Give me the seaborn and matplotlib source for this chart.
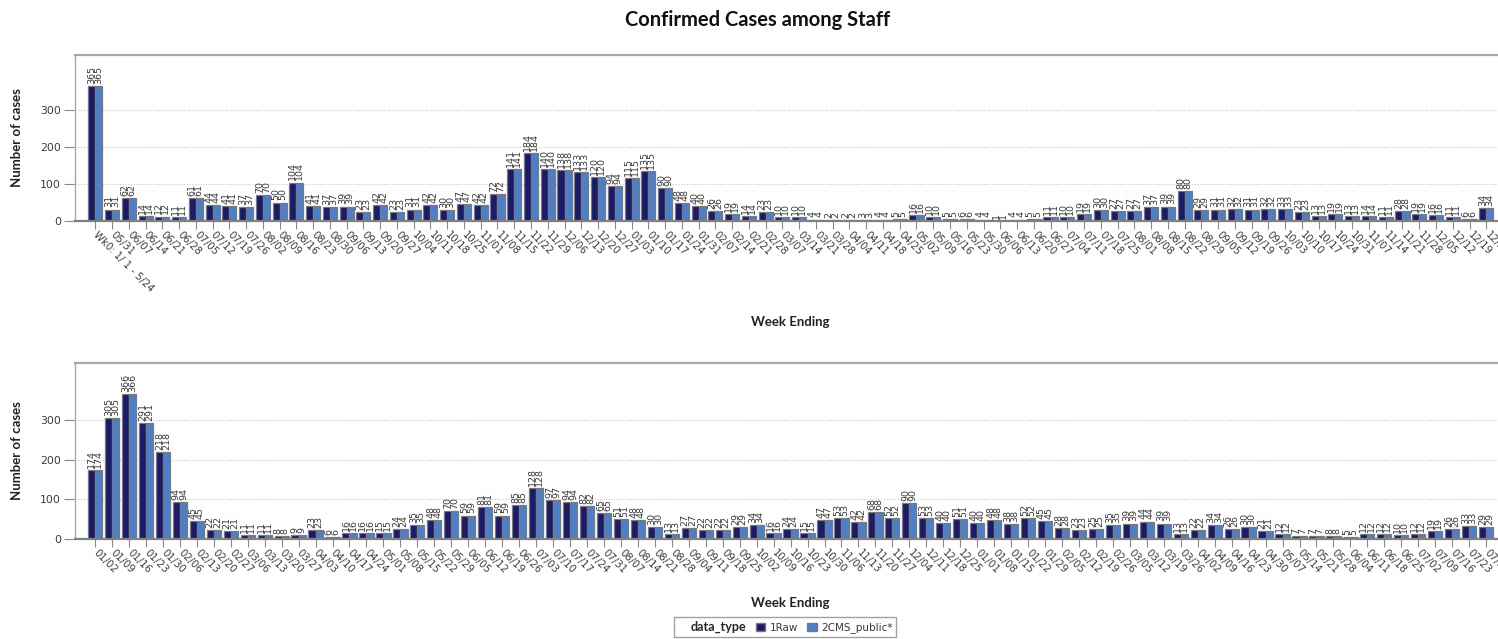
import matplotlib
matplotlib.use("Agg")
import matplotlib.pyplot as plt
import numpy as np
import pandas as pd
import seaborn as sns
from matplotlib.patches import Patch, Rectangle

# ---------------- data ----------------
top_weeks = ["Wk0: 1/ 1 - 5/24", "05/31", "06/07", "06/14", "06/21", "06/28", "07/05", "07/12",
             "07/19", "07/26", "08/02", "08/09", "08/16", "08/23", "08/30", "09/06", "09/13",
             "09/20", "09/27", "10/04", "10/11", "10/18", "10/25", "11/01", "11/08", "11/15",
             "11/22", "11/29", "12/06", "12/13", "12/20", "12/27", "01/03", "01/10", "01/17",
             "01/24", "01/31", "02/07", "02/14", "02/21", "02/28", "03/07", "03/14", "03/21",
             "03/28", "04/04", "04/11", "04/18", "04/25", "05/02", "05/09", "05/16", "05/23",
             "05/30", "06/06", "06/13", "06/20", "06/27", "07/04", "07/11", "07/18", "07/25",
             "08/01", "08/08", "08/15", "08/22", "08/29", "09/05", "09/12", "09/19", "09/26",
             "10/03", "10/10", "10/17", "10/24", "10/31", "11/07", "11/14", "11/21", "11/28",
             "12/05", "12/12", "12/19", "12/26"]
top_raw = [365, 31, 62, 14, 12, 11, 61, 44, 41, 37, 70, 50, 104, 41, 37, 39, 23, 42, 23, 31,
           42, 30, 47, 42, 72, 141, 184, 140, 138, 133, 120, 94, 115, 135, 90, 48, 40, 26, 19, 14,
           23, 10, 10, 4, 2, 2, 3, 4, 5, 16, 10, 5, 6, 4, 1, 4, 5, 11, 10, 19,
           30, 27, 27, 37, 39, 80, 29, 31, 32, 31, 32, 33, 23, 13, 19, 13, 14, 11, 28, 19,
           16, 11, 6, 34]
top_cms = [365, 31, 62, 14, 12, 11, 61, 44, 41, 37, 70, 50, 104, 41, 37, 39, 23, 42, 23, 31,
           42, 30, 47, 42, 72, 141, 184, 140, 138, 133, 120, 94, 115, 135, 90, 48, 40, 26, 19, 14,
           23, 10, 10, 4, 2, 2, 3, 4, 5, 16, 10, 5, 6, 4, 1, 4, 5, 11, 10, 19,
           30, 27, 27, 37, 39, 80, 29, 31, 32, 31, 32, 33, 23, 13, 19, 13, 14, 11, 28, 19,
           16, 11, 6, 34]

bottom_weeks = ["01/02", "01/09", "01/16", "01/23", "01/30", "02/06", "02/13", "02/20", "02/27",
                "03/06", "03/13", "03/20", "03/27", "04/03", "04/10", "04/17", "04/24", "05/01",
                "05/08", "05/15", "05/22", "05/29", "06/05", "06/12", "06/19", "06/26", "07/03",
                "07/10", "07/17", "07/24", "07/31", "08/07", "08/14", "08/21", "08/28", "09/04",
                "09/11", "09/18", "09/25", "10/02", "10/09", "10/16", "10/23", "10/30", "11/06",
                "11/13", "11/20", "11/27", "12/04", "12/11", "12/18", "12/25", "01/01", "01/08",
                "01/15", "01/22", "01/29", "02/05", "02/12", "02/19", "02/26", "03/05", "03/12",
                "03/19", "03/26", "04/02", "04/09", "04/16", "04/23", "04/30", "05/07", "05/14",
                "05/21", "05/28", "06/04", "06/11", "06/18", "06/25", "07/02", "07/09", "07/16",
                "07/23", "07/30"]
bottom_raw = [174, 305, 366, 291, 218, 94, 45, 22, 21, 11, 11, 8, 9, 23, 6, 16, 16, 15, 24, 35,
              48, 70, 59, 81, 59, 85, 128, 97, 94, 82, 65, 51, 48, 30, 13, 27, 22, 22, 29, 34,
              16, 24, 15, 47, 53, 42, 68, 52, 90, 53, 40, 51, 40, 48, 38, 52, 45, 28, 23, 25,
              35, 39, 44, 39, 13, 22, 34, 26, 30, 21, 12, 7, 7, 8, 5, 12, 12, 10, 12, 19,
              26, 33, 29]
bottom_cms = [174, 305, 366, 291, 218, 94, 45, 22, 21, 11, 11, 8, 9, 23, 6, 16, 16, 15, 24, 35,
              48, 70, 59, 81, 59, 85, 128, 97, 94, 82, 65, 51, 48, 30, 13, 27, 22, 22, 29, 34,
              16, 24, 15, 47, 53, 42, 68, 52, 90, 53, 40, 51, 40, 48, 38, 52, 45, 28, 23, 25,
              35, 39, 44, 39, 13, 22, 34, 26, 30, 21, 12, 7, 7, 8, 5, 12, 12, 10, 12, 19,
              26, 33, 29]

series_names = ["1Raw", "2CMS_public*"]
y_ticks = [0, 100, 200, 300]

# ---------------- style ----------------
colors = ["#1b1b6a", "#4b7fca"]
edge = "#7a7a7a"
txt = "#3a3a3a"

sns.set_theme(style="white")
plt.rcParams["font.family"] = ["DejaVu Sans"]

W, H = 1498, 639
fig = plt.figure(figsize=(W / 100, H / 100), dpi=100)

ax1 = fig.add_axes([75 / W, 1 - 221 / H, (W - 75) / W, 166 / H])
ax2 = fig.add_axes([75 / W, 1 - 539 / H, (W - 75) / W, 176 / H])


def draw(ax, weeks, raw, cms, xlim, ylim):
    n = len(weeks)
    df = pd.DataFrame({
        "week": weeks + weeks,
        "data_type": [series_names[0]] * n + [series_names[1]] * n,
        "cases": raw + cms,
    })
    sns.barplot(data=df, x="week", y="cases", hue="data_type", order=weeks,
                hue_order=series_names, palette=colors, saturation=1, width=0.84,
                edgecolor=edge, linewidth=0.9, errorbar=None, legend=False, ax=ax)
    for cont, vals in zip(ax.containers, [raw, cms]):
        ax.bar_label(cont, labels=[str(v) for v in vals], rotation=90, padding=1.5,
                     fontsize=6.8, color=txt)
    ax.set_xlim(*xlim)
    ax.set_ylim(*ylim)
    ax.set_yticks(y_ticks)
    ax.set_yticklabels([str(t) for t in y_ticks], fontsize=7.8, color=txt)
    ax.set_xticks(range(n))
    ax.set_xticklabels(weeks, rotation=-45, ha="left", va="center",
                       rotation_mode="anchor", fontsize=7.3, color=txt)
    ax.tick_params(axis="x", bottom=True, length=6, width=0.8, color="#8a8a8a", pad=3)
    ax.tick_params(axis="y", left=True, length=8, width=0.8, color="#8a8a8a", pad=2)
    ax.yaxis.grid(True, linestyle=(0, (1, 1.5)), color="#c8c8c8", linewidth=0.8)
    ax.xaxis.grid(False)
    ax.set_axisbelow(True)
    ax.set_xlabel("")
    ax.set_ylabel("")
    ax.spines["right"].set_visible(False)
    ax.spines["top"].set_color("#a8a8a8")
    ax.spines["top"].set_linewidth(1.6)
    ax.spines["left"].set_color("#a8a8a8")
    ax.spines["left"].set_linewidth(1.0)
    ax.spines["bottom"].set_color("#808080")
    ax.spines["bottom"].set_linewidth(1.6)


draw(ax1, top_weeks, top_raw, top_cms, (-1.21, 83.7), (0, 449))
draw(ax2, bottom_weeks, bottom_raw, bottom_cms, (-1.18, 82.7), (0, 443))

lab_font = ["Lato", "DejaVu Sans"]
fig.text(758 / W, 1 - 20 / H, "Confirmed Cases among Staff", ha="center", va="center",
         fontsize=14.5, fontweight="bold", family=lab_font, color="#111111")
for yc in (138, 451):
    fig.text(17 / W, 1 - yc / H, "Number of cases", rotation=90, ha="center", va="center",
             fontsize=9.5, fontweight="bold", family=lab_font, color="#222222")
for yc in (322, 603):
    fig.text(790 / W, 1 - yc / H, "Week Ending", ha="center", va="center",
             fontsize=9.5, fontweight="bold", family=lab_font, color="#222222")

handles = [Rectangle((0, 0), 1, 1, alpha=0),
           Patch(facecolor=colors[0], edgecolor=edge),
           Patch(facecolor=colors[1], edgecolor=edge)]
leg = fig.legend(handles=handles, labels=["data_type"] + series_names, ncol=3,
                 loc="center", bbox_to_anchor=(785 / W, 1 - 627 / H), frameon=True,
                 fancybox=False, fontsize=7.5, handlelength=0.9, handleheight=0.9,
                 handletextpad=0.4, columnspacing=0.9, borderpad=0.3, borderaxespad=0)
leg.get_frame().set_edgecolor("#8a8a8a")
leg.get_frame().set_linewidth(1.0)
t0 = leg.get_texts()[0]
t0.set_fontweight("bold")
t0.set_fontsize(9)
t0.set_family(lab_font)
for t in leg.get_texts()[1:]:
    t.set_color(txt)

fig.savefig("out.png", dpi=100)
